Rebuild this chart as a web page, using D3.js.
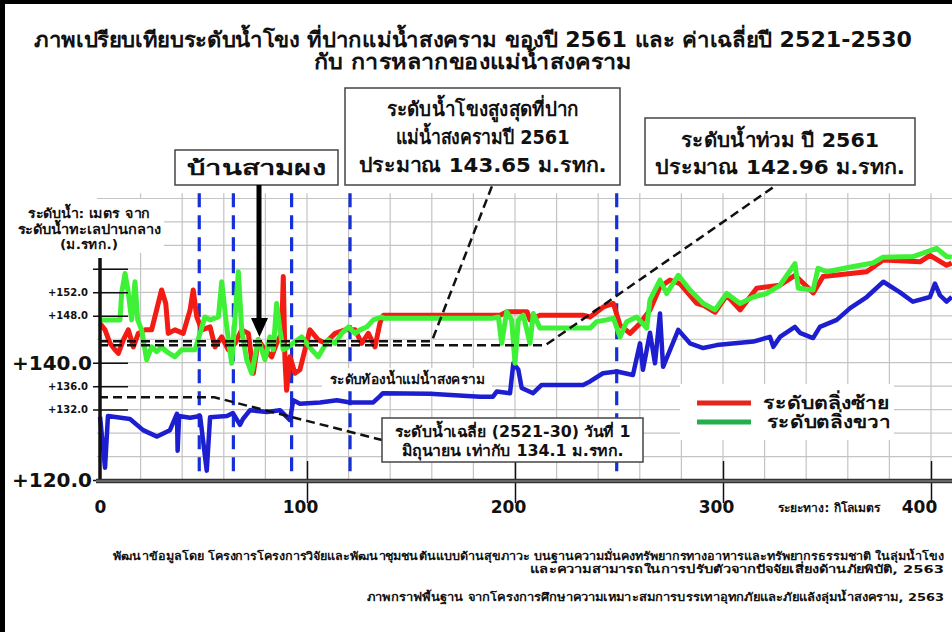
<!DOCTYPE html>
<html>
<head>
<meta charset="utf-8">
<script src="https://cdn.jsdelivr.net/npm/d3@7"></script>
<style>
  body { margin: 0; background: #fff; }
  svg text { font-family: Tahoma, "DejaVu Sans", "Noto Sans", sans-serif; font-weight: bold; fill: #111; }
</style>
</head>
<body>
<div id="chart"></div>
<script>
// river profile, [distance km, level m.MSL]
const leftBank = [[0.5,146.7],[2.9,145.6],[5.3,143.3],[7.7,142.2],[9.3,141.6],[11.7,143.9],[14.1,145.6],[16.5,142.7],[18.9,145.0],[22.1,145.6],[25.3,145.6],[27.7,149.0],[30.1,152.4],[32.1,150.1],[33.3,145.0],[36.5,145.6],[40.5,145.0],[43.8,149.0],[45.3,152.4],[47,147.8],[49.4,145.6],[53.4,146.1],[55.8,142.7],[59,144.4],[62.2,142.2],[65.4,143.3],[68.6,145.6],[71.8,145.0],[74.2,138.2],[76.6,143.9],[79.8,142.2],[83,141.0],[85.4,143.3],[87.8,145.0],[88.6,154.7],[89.4,140.5],[90.2,135.3],[91.8,141.0],[94.2,138.2],[96.6,138.8],[99,142.2],[101.4,145.6],[105.4,143.9],[108.7,143.3],[113.5,145.0],[118.3,145.6],[123.1,145.6],[126.3,143.3],[129.5,145.0],[132.7,142.7],[135.1,146.8],[136.7,148.1],[189.4,148.1],[192.8,148.1],[196.2,148.7],[205.8,148.7],[207.2,147.3],[212,148.1],[232.7,148.1],[236.1,147.8],[242.5,149.5],[247.3,150.1],[250.5,146.4],[255.3,145.0],[260.1,146.7],[264.9,149.0],[269.7,152.9],[274.5,154.1],[279.3,153.5],[287.4,150.1],[290.5,149.8],[296.2,148.6],[301.8,151.5],[308.2,149.0],[316.2,152.7],[327.4,153.2],[334.6,154.9],[343.4,151.9],[348.1,154.7],[369.1,155.5],[377,157.5],[394.7,157.2],[399.5,158.3],[407.5,156.6],[410,157.0]];

const rightBank = [[0.5,147.3],[4.3,147.3],[10.1,147.3],[10.9,151.9],[12.5,155.2],[13.9,152.4],[15.7,147.3],[17.3,153.8],[18.6,147.3],[20.5,145.6],[22.9,140.5],[25.3,142.7],[27.7,141.9],[30.1,142.7],[32.5,141.9],[36.5,141.0],[39.8,142.2],[46.2,142.2],[50.9,147.8],[53.4,147.3],[57.4,147.8],[59,153.8],[61.4,146.1],[63.8,139.9],[67,155.5],[68.6,145.6],[71,140.5],[73.4,138.2],[76.6,143.9],[79.8,140.5],[82.2,144.4],[83.8,142.2],[85.4,150.1],[87,145.6],[88.6,142.2],[91,142.7],[97.4,144.4],[102.3,142.2],[105.4,141.0],[110.2,143.9],[113.5,143.3],[116.7,145.0],[119.9,146.1],[123.1,145.0],[125.5,145.6],[128.7,146.1],[131.9,147.3],[135.9,147.8],[136.7,147.6],[189.4,147.6],[192,147.8],[193.6,143.3],[196,148.7],[198.4,147.3],[200,139.9],[201.6,147.3],[204,148.1],[207.2,143.3],[208.8,148.4],[212,145.9],[236.1,145.9],[239.3,147.0],[244.1,147.3],[247.3,147.6],[250.5,144.4],[253.7,147.0],[258.5,147.8],[263.3,145.9],[264.9,150.7],[269.7,154.1],[272.9,151.8],[278.5,154.9],[284.1,152.4],[290.5,150.1],[296.2,149.0],[301.8,151.8],[308.2,150.1],[314.6,151.2],[321,151.8],[327.4,153.2],[334.6,156.9],[336.2,152.7],[343.3,152.4],[345.7,156.1],[349.9,155.5],[362.7,156.4],[372.1,157.0],[377,158.0],[391.3,158.1],[402.7,159.5],[407.5,158.1],[410,158.0]];

const riverBed = [[0.5,130.8],[2.9,122.1],[4.3,130.9],[14.9,130.4],[21.2,128.5],[27.9,127.4],[34.1,128.5],[37.5,131.3],[37.8,125.0],[38.5,130.9],[43.8,130.6],[48.6,130.9],[51.8,121.6],[53.4,130.7],[61.5,130.9],[64.4,131.4],[67.8,129.4],[69.2,130.4],[72.6,131.9],[80.8,131.6],[87,131.9],[91.8,130.2],[93.4,133.6],[96.6,133.0],[106.3,133.2],[114.4,133.6],[120.7,133.2],[131.7,133.2],[135.1,134.3],[136.5,134.8],[159.1,134.7],[183.2,134.2],[189.4,134.2],[191.3,135.1],[197.6,134.8],[199.2,139.9],[201.6,138.8],[203.2,135.7],[208.7,134.8],[212.8,136.2],[232.7,136.2],[236.1,136.8],[242.3,138.2],[249,138.5],[256.7,137.9],[260.1,143.3],[261.5,138.8],[264.9,145.1],[267.3,139.9],[269.7,148.4],[271.2,139.3],[278.5,145.6],[284.1,143.3],[290.5,142.5],[297,143.0],[314.6,143.6],[322.6,144.4],[324.2,142.7],[327.4,144.4],[334.6,146.1],[337,145.1],[343.3,144.2],[346.6,146.1],[354.7,147.3],[361.1,149.3],[369.1,151.2],[377.1,153.8],[385.1,152.0],[391.3,150.4],[399.5,151.2],[401.9,153.5],[404.3,151.5],[407.5,150.4],[410,151.2]];

const yTicks = [156, 152, 148, 140, 136, 132, 120];
const yBigTicks = [140, 120];
const xTicks = [0, 100, 200, 300, 400];
const stationKm = [48.2, 64.6, 92.6, 120.7, 248.9]; // blue dashed markers

const peak2561 = 143.65;   // highest Mekong level at the mouth
const flood2561 = 142.96;  // flood level
const avgJune = 134.1;     // 2521-30 mean, 1 June

const title = ["ภาพเปรียบเทียบระดับน้ำโขง ที่ปากแม่น้ำสงคราม ของปี 2561 และ ค่าเฉลี่ยปี 2521-2530", "กับ การหลากของแม่น้ำสงคราม"];
const footer = ["พัฒนาข้อมูลโดย โครงการโครงการวิจัยและพัฒนาชุมชนต้นแบบด้านสุขภาวะ บนฐานความมั่นคงทรัพยากรทางอาหารและทรัพยากรธรรมชาติ ในลุ่มน้ำโขง", "และความสามารถในการปรับตัวจากปัจจัยเสี่ยงด้านภัยพิบัติ, 2563", "ภาพกราฟพื้นฐาน จากโครงการศึกษาความเหมาะสมการบรรเทาอุทกภัยและภัยแล้งลุ่มน้ำสงคราม, 2563"];

const width = 952, height = 632;

let svg = d3.select("#chart").append("svg").attr("width", width).attr("height", height);

let x = d3.scaleLinear().domain([0, 400]).range([99, 931]);
let y = d3.scaleLinear().domain([120, 140]).range([480, 362.7]);

// frame
svg.append("rect").attr("width", width).attr("height", height).attr("fill", "#fff");
svg.append("rect").attr("x", 0).attr("y", 0).attr("width", width).attr("height", 4).attr("fill", "#000");
svg.append("rect").attr("x", 0).attr("y", 0).attr("width", 5).attr("height", height).attr("fill", "#000");

// title
svg.append("g").selectAll("text").data(title).enter().append("text")
    .attr("x", 473).attr("y", (d, i) => 47 + i * 22)
    .attr("text-anchor", "middle").attr("font-size", 21)
    .attr("textLength", (d, i) => [878, 318][i]).attr("lengthAdjust", "spacingAndGlyphs")
    .text(d => d);

// grid
let grid = svg.append("g").attr("stroke", "#c4c4c4").attr("stroke-width", 1.2);
grid.selectAll("line.v").data(d3.range(20, 420, 20)).enter().append("line")
    .attr("x1", d => x(d)).attr("x2", d => x(d)).attr("y1", y(168.9)).attr("y2", y(120));
grid.selectAll("line.h").data(d3.range(124, 169, 4)).enter().append("line")
    .attr("x1", x(-1)).attr("x2", width).attr("y1", d => y(d)).attr("y2", d => y(d));

// blue dashed stations
svg.append("g").selectAll("line").data(stationKm).enter().append("line")
    .attr("x1", d => x(d)).attr("x2", d => x(d)).attr("y1", y(168.9)).attr("y2", y(119.5))
    .attr("stroke", "#1530d8").attr("stroke-width", 3.2).attr("stroke-dasharray", "14,8");

// series
let line = d3.line().x(d => x(d[0])).y(d => y(d[1]));
svg.append("path").datum(riverBed).attr("d", line).attr("fill", "none")
    .attr("stroke", "#1d1ed0").attr("stroke-width", 4.5).attr("stroke-linejoin", "round");
svg.append("path").datum(leftBank).attr("d", line).attr("fill", "none")
    .attr("stroke", "#f21c14").attr("stroke-width", 5).attr("stroke-linejoin", "round");
svg.append("path").datum(rightBank).attr("d", line).attr("fill", "none")
    .attr("stroke", "#3ef036").attr("stroke-width", 5).attr("stroke-linejoin", "round");

// reference levels with leader lines
let dash = svg.append("g").attr("fill", "none").attr("stroke", "#111").attr("stroke-width", 2.5).attr("stroke-dasharray", "9,5");
dash.append("path").attr("d", "M" + x(0) + "," + y(peak2561) + " H" + x(160) + " L492,186");
dash.append("path").attr("d", "M" + x(0) + "," + y(flood2561) + " H" + x(214.5) + " L775,186");
dash.append("path").attr("d", "M" + x(0) + "," + y(avgJune) + " H" + x(55.5) + " L382,440");

// y axis
let yAxis = d3.axisLeft(y).tickValues(yTicks).tickSize(0).tickFormat(d => "+" + d.toFixed(1));
let gy = svg.append("g").attr("transform", "translate(100,0)").call(yAxis);
gy.select(".domain").remove();
gy.selectAll(".tick line").attr("x1", -7).attr("x2", 28).attr("stroke", "#111").attr("stroke-width", 1.5);
gy.selectAll(".tick text").attr("x", -12).attr("fill", "#111").attr("font-size", 10)
    .attr("font-family", "Tahoma, 'DejaVu Sans', sans-serif").attr("font-weight", "bold");
gy.selectAll(".tick").filter(d => d == 156).select("text").remove();
gy.selectAll(".tick").filter(d => yBigTicks.includes(d)).select("text")
    .attr("x", -8).attr("font-size", 20);
svg.append("line").attr("x1", 100).attr("x2", 100).attr("y1", 258).attr("y2", 483)
    .attr("stroke", "#111").attr("stroke-width", 3.5);

// y axis title
let yTitle = svg.append("g");
yTitle.append("rect").attr("x", 14).attr("y", 199).attr("width", 150).attr("height", 54).attr("fill", "#fff");
yTitle.selectAll("text").data(["ระดับน้ำ: เมตร จาก", "ระดับน้ำทะเลปานกลาง", "(ม.รทก.)"]).enter().append("text")
    .attr("x", 89).attr("y", (d, i) => 218 + i * 15.5).attr("text-anchor", "middle").attr("font-size", 13)
    .attr("textLength", (d, i) => [122, 143, 58][i]).attr("lengthAdjust", "spacingAndGlyphs")
    .attr("fill", "#222").text(d => d);

// x axis
let xAxis = d3.axisBottom(x).tickValues(xTicks).tickSize(0).tickFormat(d3.format("d"));
let gx = svg.append("g").attr("transform", "translate(0,481)").call(xAxis);
gx.select(".domain").remove();
gx.selectAll(".tick line").attr("y1", -20).attr("y2", 22).attr("stroke", "#111").attr("stroke-width", 1.5);
gx.selectAll(".tick").filter(d => d == 0).select("line").remove();
gx.selectAll(".tick text").attr("y", 20).attr("dx", d => d == 0 ? 1 : (d == 400 ? -12 : -7))
    .attr("fill", "#111").attr("font-size", 17)
    .attr("font-family", "Tahoma, 'DejaVu Sans', sans-serif").attr("font-weight", "bold");
svg.append("line").attr("x1", 96).attr("x2", width).attr("y1", 481).attr("y2", 481)
    .attr("stroke", "#333").attr("stroke-width", 4.5);
svg.append("line").attr("x1", 96).attr("x2", width).attr("y1", 481).attr("y2", 481)
    .attr("stroke", "#999").attr("stroke-width", 1);
svg.append("text").attr("x", 778).attr("y", 512).attr("font-size", 12).attr("fill", "#222")
    .attr("textLength", 102).attr("lengthAdjust", "spacingAndGlyphs").text("ระยะทาง: กิโลเมตร");

// annotation boxes
function box(x0, y0, w, h, lines, size, gap, yFirst, lens) {
    let g = svg.append("g");
    g.append("rect").attr("x", x0).attr("y", y0).attr("width", w).attr("height", h)
        .attr("fill", "#fff").attr("stroke", "#444").attr("stroke-width", 1.5);
    g.selectAll("text").data(lines).enter().append("text")
        .attr("x", x0 + w / 2).attr("y", (d, i) => yFirst + i * gap)
        .attr("text-anchor", "middle").attr("font-size", size)
        .attr("textLength", (d, i) => lens[i]).attr("lengthAdjust", "spacingAndGlyphs")
        .text(d => d);
}
box(175, 150, 163, 35, ["บ้านสามผง"], 20, 0, 175, [140]);
box(345, 88, 275, 97, ["ระดับน้ำโขงสูงสุดที่ปาก", "แม่น้ำสงครามปี 2561", "ประมาณ 143.65 ม.รทก."], 20, 28, 116, [192, 174, 248]);
box(645, 118, 270, 67, ["ระดับน้ำท่วม ปี 2561", "ประมาณ 142.96 ม.รทก."], 20, 27, 147, [198, 250]);
box(382, 418, 261, 44, ["ระดับน้ำเฉลี่ย (2521-30) วันที่ 1", "มิถุนายน เท่ากับ 134.1 ม.รทก."], 15, 19, 437, [236, 222]);

// arrow to Ban Sam Phong
svg.append("line").attr("x1", 259).attr("x2", 259).attr("y1", 185).attr("y2", 322)
    .attr("stroke", "#000").attr("stroke-width", 5);
svg.append("path").attr("d", "M251,318 L268,318 L259.5,337 Z").attr("fill", "#000");

// river bed label
svg.append("rect").attr("x", 322).attr("y", 368).attr("width", 170).attr("height", 23).attr("fill", "#fff");
svg.append("text").attr("x", 330).attr("y", 384).attr("font-size", 13).attr("fill", "#1c2c7c")
    .attr("textLength", 155).attr("lengthAdjust", "spacingAndGlyphs").text("ระดับท้องน้ำแม่น้ำสงคราม");

// legend
let legend = svg.append("g");
legend.append("rect").attr("x", 680).attr("y", 384).attr("width", 214).attr("height", 56).attr("fill", "#fff");
let legendItems = [["ระดับตลิ่งซ้าย", "#e5261c", 127], ["ระดับตลิ่งขวา", "#22b04c", 123]];
legendItems.forEach((d, i) => {
    legend.append("line").attr("x1", 697).attr("x2", 751).attr("y1", 403 + i * 19).attr("y2", 403 + i * 19)
        .attr("stroke", d[1]).attr("stroke-width", 5);
    legend.append("text").attr("x", 763 + i * 4).attr("y", 409 + i * 19).attr("font-size", 18)
        .attr("textLength", d[2]).attr("lengthAdjust", "spacingAndGlyphs")
        .attr("fill", "#1b2a78").text(d[0]);
});

// footer
svg.append("g").selectAll("text").data(footer).enter().append("text")
    .attr("x", 944).attr("y", (d, i) => [560, 573, 601][i]).attr("text-anchor", "end")
    .attr("font-size", 11).attr("fill", "#222")
    .attr("textLength", (d, i) => [831, 414, 577][i]).attr("lengthAdjust", "spacingAndGlyphs")
    .text(d => d);
</script>
</body>
</html>
